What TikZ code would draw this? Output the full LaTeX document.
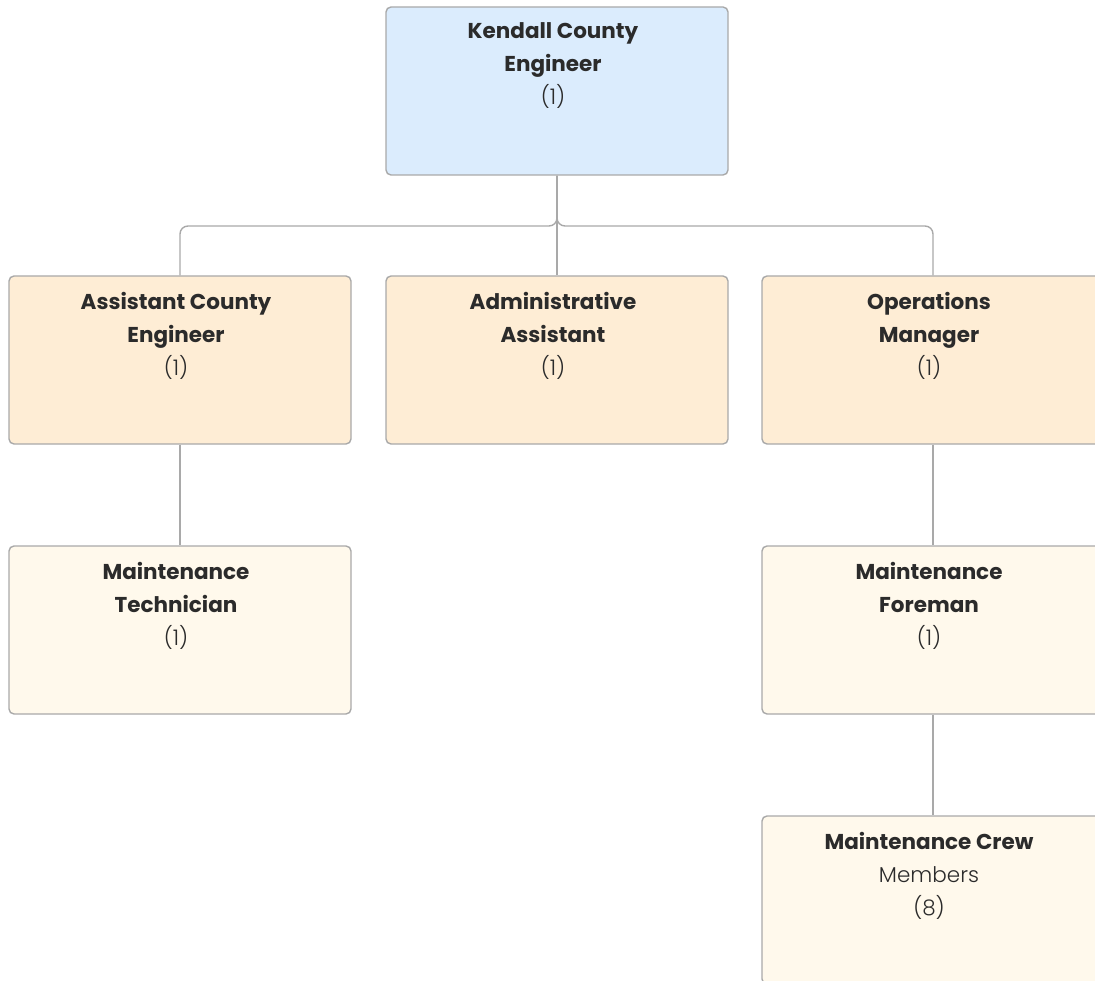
\documentclass[tikz,border=0pt]{standalone}
\usepackage{fontspec}
\setmainfont{Poppins}[UprightFont=* Light, BoldFont=* Bold]
\usetikzlibrary{positioning}

\definecolor{edge}{HTML}{A9A9A9}
\definecolor{ink}{HTML}{2B2B2B}
\definecolor{headfill}{HTML}{DBECFD}
\definecolor{midfill}{HTML}{FEEDD5}
\definecolor{lowfill}{HTML}{FFF9EC}

\tikzset{
  post/.style={draw=edge, line width=1.4pt, rounded corners=5pt,
    minimum width=342pt, minimum height=168pt, inner sep=0pt},
  posttext/.style={anchor=north, align=center, text=ink,
    font=\fontsize{21.5}{33}\selectfont},
  link/.style={draw=edge, line width=1.4pt, rounded corners=8pt}
}

\begin{document}
\begin{tikzpicture}[x=1pt, y=1pt]
  % Frame of the page; boxes on the right run past it.
  \clip (0,0) rectangle (1095,-981);
  % Top of the tree.
  \node[post, fill=headfill] (kce) at (557,-91) {};
  % Second row.
  \node[post, fill=midfill] (ace) at (180,-360) {};
  \node[post, fill=midfill] (aa) at (557,-360) {};
  \node[post, fill=midfill] (om) at (933,-360) {};
  % Lower rows.
  \node[post, fill=lowfill] (mt) at (180,-630) {};
  \node[post, fill=lowfill] (mf) at (933,-630) {};
  \node[post, fill=lowfill] (mcm) at (933,-900) {};
  % Texts.
  \node[posttext] at ([xshift=-4pt,yshift=-13pt]kce.north)
    {\textbf{Kendall County}\\\textbf{Engineer}\\(1)};
  \node[posttext] at ([xshift=-4pt,yshift=-13pt]ace.north)
    {\textbf{Assistant County}\\\textbf{Engineer}\\(1)};
  \node[posttext] at ([xshift=-4pt,yshift=-13pt]aa.north)
    {\textbf{Administrative}\\\textbf{Assistant}\\(1)};
  \node[posttext] at ([xshift=-4pt,yshift=-13pt]om.north)
    {\textbf{Operations}\\\textbf{Manager}\\(1)};
  \node[posttext] at ([xshift=-4pt,yshift=-13pt]mt.north)
    {\textbf{Maintenance}\\\textbf{Technician}\\(1)};
  \node[posttext] at ([xshift=-4pt,yshift=-13pt]mf.north)
    {\textbf{Maintenance}\\\textbf{Foreman}\\(1)};
  \node[posttext] at ([xshift=-4pt,yshift=-13pt]mcm.north)
    {\textbf{Maintenance Crew}\\Members\\(8)};
  % Bus under the top box.
  \coordinate (bus) at (557,-226);
  \draw[link] (kce.south) -- (bus) -| (ace.north);
  \draw[link] (kce.south) -- (bus) -| (om.north);
  \draw[link] (kce.south) -- (aa.north);
  % Single lines down.
  \draw[link] (ace.south) -- (mt.north);
  \draw[link] (om.south) -- (mf.north);
  \draw[link] (mf.south) -- (mcm.north);
\end{tikzpicture}
\end{document}
